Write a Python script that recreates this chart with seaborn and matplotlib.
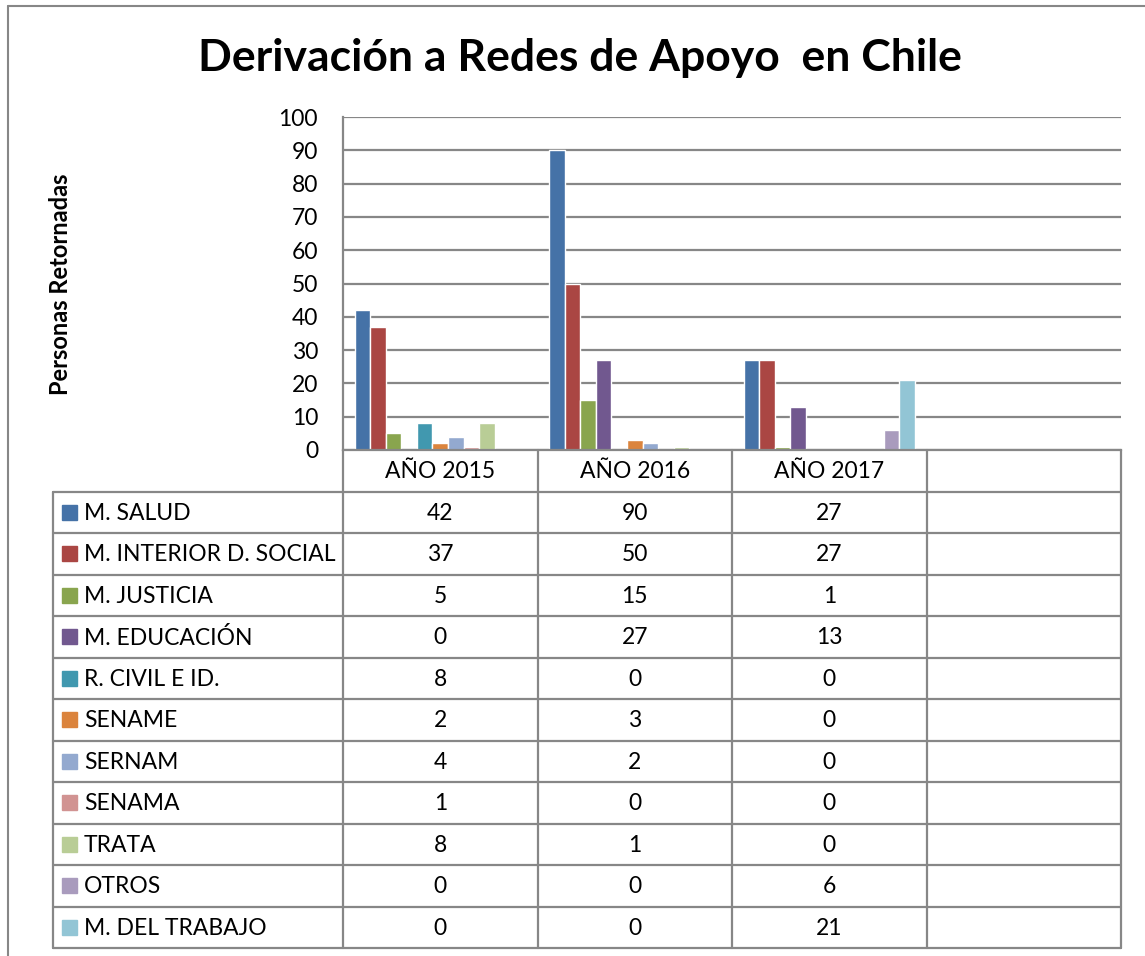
import matplotlib
matplotlib.use("Agg")
import matplotlib.pyplot as plt
import seaborn as sns
import pandas as pd
from matplotlib.patches import Rectangle

# -------------------------------
# Data
# -------------------------------
years = ["AÑO 2015", "AÑO 2016", "AÑO 2017"]
series = ["M. SALUD", "M. INTERIOR D. SOCIAL", "M. JUSTICIA", "M. EDUCACIÓN",
          "R. CIVIL E ID.", "SENAME", "SERNAM", "SENAMA", "TRATA", "OTROS",
          "M. DEL TRABAJO"]
values = [
    [42, 90, 27],
    [37, 50, 27],
    [5, 15, 1],
    [0, 27, 13],
    [8, 0, 0],
    [2, 3, 0],
    [4, 2, 0],
    [1, 0, 0],
    [8, 1, 0],
    [0, 0, 6],
    [0, 0, 21],
]
colors = ["#4572A7", "#AA4643", "#89A54E", "#71588F", "#4198AF", "#DB843D",
          "#93A9CF", "#D19392", "#B9CD96", "#A99BBD", "#92C5D5"]

rows = []
for s, vals in zip(series, values):
    for y, v in zip(years, vals):
        rows.append({"year": y, "series": s, "value": v})
df = pd.DataFrame(rows)

# -------------------------------
# Figure
# -------------------------------
sns.set_style("white")
plt.rcParams["font.family"] = ["Lato", "DejaVu Sans"]
plt.rcParams["text.color"] = "black"
plt.rcParams["ytick.color"] = "black"
plt.rcParams["ytick.labelcolor"] = "black"
W, H = 1145, 956
fig = plt.figure(figsize=(W / 100, H / 100), dpi=100)
grid_col = "#878787"

# outer chart border (left + top only, the rest is cropped)
fig.add_artist(plt.Line2D([8 / W, 8 / W], [0, 1 - 6 / H], color=grid_col, lw=1.5))
fig.add_artist(plt.Line2D([8 / W, 1], [1 - 6 / H, 1 - 6 / H], color=grid_col, lw=1.5))

# bar chart
ax = fig.add_axes([343 / W, 1 - 450 / H, (1121 - 343) / W, (450 - 117) / H])
sns.barplot(data=df, x="year", y="value", hue="series", order=years + [""],
            hue_order=series, palette=colors, width=0.88, errorbar=None,
            legend=False, saturation=1, ax=ax)
ax.set_xlim(-0.5, 3.5)
ax.set_ylim(0, 100)
ax.set_yticks(range(0, 101, 10))
ax.tick_params(axis="y", labelsize=16.5, pad=18, length=0, labelcolor="black")
ax.set_xticks([])
ax.set_xlabel("")
ax.set_ylabel("")
ax.yaxis.grid(True, color=grid_col, lw=1.6)
ax.set_axisbelow(True)
for side in ["top", "right"]:
    ax.spines[side].set_visible(False)
for side in ["left", "bottom"]:
    ax.spines[side].set_color(grid_col)
    ax.spines[side].set_linewidth(1.6)

fig.text(60 / W, 1 - 284 / H, "Personas Retornadas", rotation=90, ha="center",
         va="center", fontsize=17, weight="bold", color="black")
fig.text(580 / W, 1 - 58 / H, "Derivación a Redes de Apoyo  en Chile",
         ha="center", va="center", fontsize=32, weight="bold", color="black")

# -------------------------------
# Data table with legend keys
# -------------------------------
tab = fig.add_axes([53 / W, 1 - 948 / H, (1121 - 53) / W, (948 - 450) / H])
unit = (1121 - 343) / 4
left = -0.5 - (343 - 53) / unit
n_rows = len(series) + 1
tab.set_xlim(left, 3.5)
tab.set_ylim(n_rows, 0)
tab.axis("off")

for r in range(1, n_rows + 1):
    tab.plot([left, 3.5], [r, r], color=grid_col, lw=1.6, clip_on=False)
for k in range(5):
    tab.plot([k - 0.5, k - 0.5], [0, n_rows], color=grid_col, lw=1.6, clip_on=False)
tab.plot([left, left], [1, n_rows], color=grid_col, lw=1.6, clip_on=False)

for i, y in enumerate(years):
    tab.text(i, 0.52, y, ha="center", va="center", fontsize=16.5, color="black")

for r, (s, vals, c) in enumerate(zip(series, values, colors)):
    yc = r + 1.5
    sq_w = 15 / unit
    sq_h = 15 / ((948 - 450) / n_rows)
    tab.add_patch(Rectangle((left + 9 / unit, yc - sq_h / 2), sq_w, sq_h,
                            color=c, clip_on=False))
    tab.text(left + 31 / unit, yc + 0.02, s, ha="left", va="center",
             fontsize=16.5, color="black")
    for j, v in enumerate(vals):
        tab.text(j, yc + 0.02, str(v), ha="center", va="center",
                 fontsize=16.5, color="black")

plt.savefig("out.png", dpi=100)
plt.close()
